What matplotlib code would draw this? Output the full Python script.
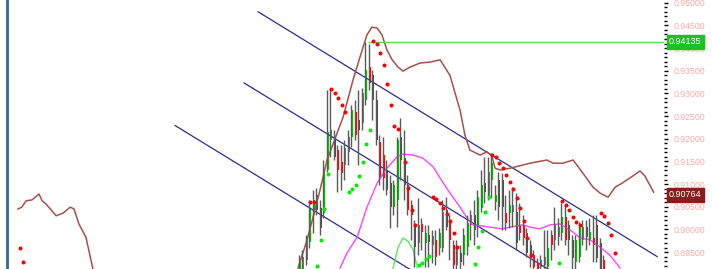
import numpy as np
import matplotlib.pyplot as plt
from matplotlib.ticker import MultipleLocator, FormatStrFormatter

# candles (bar index 0 = first visible candle)
opens = [0.8899, 0.8910, 0.8932, 0.8972, 0.9032, 0.9076, 0.9047, 0.9036, 0.9131, 0.9197,
         0.9204, 0.9175, 0.9149, 0.9142, 0.9171, 0.9204, 0.9259, 0.9241, 0.9235, 0.9285,
         0.9358, 0.9341, 0.9285, 0.9193, 0.9164, 0.9131, 0.9102, 0.9049, 0.9065, 0.9204,
         0.9157, 0.9098, 0.9054, 0.9005, 0.8970, 0.9012, 0.8970, 0.8988, 0.8966, 0.8977,
         0.8959, 0.8959, 0.9043, 0.9016, 0.8966, 0.8921, 0.8948, 0.8943, 0.8961, 0.9010,
         0.9032, 0.9010, 0.9047, 0.9102, 0.9071, 0.9109, 0.9060, 0.9109, 0.9109, 0.9036,
         0.9036, 0.9038, 0.9038, 0.9010, 0.9010, 0.8992, 0.8966, 0.8943, 0.8926, 0.8917,
         0.8921, 0.8917, 0.8988, 0.8977, 0.8983, 0.8992, 0.9027, 0.9010, 0.8977, 0.8928,
         0.8939, 0.8977, 0.9005, 0.8977, 0.8981, 0.9010, 0.8970, 0.8932]
highs = [0.8943, 0.8955, 0.8988, 0.9065, 0.9087, 0.9091, 0.9065, 0.9153, 0.9307, 0.9310,
         0.9219, 0.9186, 0.9186, 0.9197, 0.9219, 0.9274, 0.9285, 0.9307, 0.9312, 0.94135,
         0.9410, 0.9352, 0.9307, 0.9208, 0.9204, 0.9153, 0.9120, 0.9109, 0.9204, 0.9246,
         0.9219, 0.9120, 0.9065, 0.9021, 0.9069, 0.9025, 0.9010, 0.9010, 0.8999, 0.8999,
         0.9003, 0.9065, 0.9071, 0.9032, 0.8977, 0.8977, 0.8966, 0.9003, 0.9032, 0.9043,
         0.9065, 0.9087, 0.9131, 0.9160, 0.9160, 0.9168, 0.9098, 0.9127, 0.9124, 0.9076,
         0.9087, 0.9093, 0.9080, 0.9058, 0.9032, 0.9003, 0.8977, 0.8955, 0.8937, 0.8943,
         0.8999, 0.8999, 0.8999, 0.9049, 0.9025, 0.9058, 0.9054, 0.9021, 0.8988, 0.8988,
         0.9016, 0.9021, 0.9021, 0.9025, 0.9032, 0.9032, 0.8981, 0.8943]
lows = [0.8888, 0.8893, 0.8921, 0.8959, 0.8992, 0.9032, 0.8988, 0.9025, 0.9127, 0.9160,
        0.9153, 0.9082, 0.9087, 0.9109, 0.9142, 0.9182, 0.9197, 0.9142, 0.9219, 0.9274,
        0.9307, 0.9241, 0.9186, 0.9098, 0.9087, 0.9076, 0.9003, 0.9032, 0.9005, 0.9109,
        0.9065, 0.9032, 0.8977, 0.8917, 0.8943, 0.8955, 0.8917, 0.8917, 0.8926, 0.8921,
        0.8943, 0.8950, 0.8999, 0.8932, 0.8899, 0.8899, 0.8899, 0.8921, 0.8943, 0.8977,
        0.8966, 0.8983, 0.9038, 0.9058, 0.9065, 0.9069, 0.9043, 0.9021, 0.8999, 0.8999,
        0.9003, 0.9005, 0.8955, 0.8977, 0.8966, 0.8939, 0.8917, 0.8906, 0.8899, 0.8906,
        0.8910, 0.8910, 0.8932, 0.8955, 0.8966, 0.8977, 0.8966, 0.8943, 0.8910, 0.8910,
        0.8928, 0.8966, 0.8955, 0.8966, 0.8928, 0.8928, 0.8899, 0.8888]
closes = [0.8928, 0.8939, 0.8977, 0.9047, 0.9065, 0.9043, 0.9003, 0.9131, 0.9215, 0.9219,
          0.9160, 0.9131, 0.9124, 0.9180, 0.9204, 0.9263, 0.9208, 0.9219, 0.9301, 0.9352,
          0.9323, 0.9285, 0.9197, 0.9115, 0.9113, 0.9087, 0.9049, 0.9098, 0.9197, 0.9153,
          0.9098, 0.9043, 0.9032, 0.8961, 0.9010, 0.8994, 0.8992, 0.8972, 0.8985, 0.8939,
          0.8992, 0.9038, 0.9005, 0.8977, 0.8921, 0.8959, 0.8928, 0.8988, 0.9014, 0.9032,
          0.8999, 0.9071, 0.9098, 0.9082, 0.9127, 0.9146, 0.9076, 0.9049, 0.9049, 0.9014,
          0.9054, 0.9054, 0.8970, 0.8992, 0.8981, 0.8948, 0.8937, 0.8917, 0.8910, 0.8932,
          0.8939, 0.8959, 0.8966, 0.9010, 0.9005, 0.9027, 0.8977, 0.8977, 0.8937, 0.8977,
          0.9005, 0.9005, 0.8983, 0.8994, 0.8966, 0.8937, 0.8910, 0.8899]

# parabolic SAR dots
sar_up_idx = [-80, -79, 3, 4, 9, 10, 11, 12, 13, 21, 22, 23, 24, 25, 26, 27, 28,
              30, 31, 32, 33, 38, 39, 40, 41, 42, 43, 44, 45,
              55, 56, 57, 58, 59, 60, 61, 62, 63, 64, 65, 66,
              75, 76, 77, 78, 79, 80, 86, 87, 88, 89, 90]
sar_up = [0.8959, 0.8928, 0.9060, 0.9060, 0.9310, 0.9301, 0.9290, 0.9274, 0.9259,
          0.9416, 0.9409, 0.9389, 0.9363, 0.9321, 0.9274, 0.9228, 0.9221,
          0.9149, 0.9091, 0.9043, 0.9010, 0.9071, 0.9067, 0.9058, 0.9047, 0.9034,
          0.9018, 0.8992, 0.8961,
          0.9164, 0.9160, 0.9146, 0.9135, 0.9120, 0.9104, 0.9089, 0.9069, 0.9047,
          0.9018, 0.8981, 0.8943,
          0.9063, 0.9054, 0.9043, 0.9027, 0.9016, 0.9010, 0.9036, 0.9029, 0.9014,
          0.8988, 0.8948]
sar_dn_idx = [5, 6, 7, 8, 14, 15, 16, 17, 18, 19, 20, 34, 35, 36, 37, 50, 51, 52, 53, 54, 74]
sar_dn = [0.8919, 0.8977, 0.9045, 0.9122, 0.9082, 0.9089, 0.9098, 0.9118, 0.9149,
          0.9188, 0.9219, 0.8921, 0.8926, 0.8934, 0.8941, 0.8923, 0.8961, 0.8996,
          0.9038, 0.9071, 0.8926]

# envelope / bands
upper_idx = [-80.5, -79.4, -78.2, -76.5, -74.5, -73.6, -72.5, -69.6, -67.6, -65.6, -64.5,
             -63.1, -61.1, -59.1, np.nan,
             -0.5, 2.1, 3.8, 5.8, 7.8, 9.5, 12.4, 15.2, 17.2, 19.2, 20.6, 22.1, 23.5,
             24.9, 26.4, 28.1, 29.5, 31.5, 34.4, 37.2, 40.1, 42.9, 45.8, 47.2, 48.6,
             51.5, 53.5, 54.9, 55.8, 57.2, 60.1, 65.8, 70.6, 72.4, 75.2, 78.1, 80.9,
             83.8, 85.8, 88.1, 90.1, 92.1, 95.2, 97.2, 98.6, 101.1]
upper = [0.9045, 0.9049, 0.9063, 0.9065, 0.9078, 0.9063, 0.9056, 0.9030, 0.9036, 0.9049,
         0.9045, 0.9012, 0.8983, 0.8913, np.nan,
         0.8915, 0.8977, 0.9027, 0.9087, 0.9153, 0.9188, 0.9248, 0.9329, 0.9380, 0.9429,
         0.9446, 0.9444, 0.9429, 0.9396, 0.9374, 0.9358, 0.9349, 0.9358, 0.9367, 0.9369,
         0.9374, 0.9340, 0.9263, 0.9208, 0.9175, 0.9164, 0.9171, 0.9162, 0.9135, 0.9131,
         0.9135, 0.9146, 0.9153, 0.9146, 0.9146, 0.9153, 0.9124, 0.9093, 0.9080, 0.9071,
         0.9093, 0.9102, 0.9118, 0.9129, 0.9118, 0.9082]
ma_idx = [11.5, 13.5, 16.4, 19.2, 22.1, 24.9, 27.8, 29.5, 32.4, 35.2, 38.1, 40.1, 42.9,
          45.8, 47.8, 49.5, 52.4, 54.4, 57.8, 60.1, 63.8, 65.8, 68.6, 71.5, 74.4, 77.2,
          80.1, 82.9, 85.8, 88.6, 91.5]
ma = [0.8915, 0.8948, 0.8983, 0.9049, 0.9102, 0.9135, 0.9160, 0.9166, 0.9164, 0.9157,
      0.9138, 0.9113, 0.9080, 0.9049, 0.9025, 0.9010, 0.9007, 0.9005, 0.9001, 0.9005,
      0.9010, 0.9005, 0.9001, 0.9010, 0.9012, 0.8999, 0.8981, 0.8977, 0.8961, 0.8943,
      0.8915]
lower_idx = [26.6, 28.1, 29.5, 30.9, 32.4, 33.6]
lower = [0.8913, 0.8961, 0.8981, 0.8974, 0.8955, 0.8915]

# regression channel (start bar, start price, end bar, end price)
channel = [(-11.9, 0.9480, 102.1, 0.8940),
           (-15.9, 0.9323, 74.4, 0.8896),
           (-35.6, 0.9229, 34.4, 0.8898)]

high_level = 0.94135
high_bar = 19.5
last_price = 0.90764
separator_bar = -83.6

fig = plt.figure(figsize=(7.12, 2.69), dpi=100)
ax = fig.add_axes([0, 0, 664 / 712, 1])
ax.set_xlim(-85.64, 104.07)
ax.set_ylim(0.89126, 0.95060)

ax.axvline(separator_bar, color='#3d6196', lw=2)

for x0, y0, x1, y1 in channel:
    ax.plot([x0, x1], [y0, y1], color='#2b2b9c', lw=0.9)

ax.plot(upper_idx, upper, color='#a5524c', lw=1.1)
ax.plot(ma_idx, ma, color='#ff44ff', lw=1.0)
ax.plot(lower_idx, lower, color='#55ee55', lw=1.0)

ax.hlines(high_level, high_bar, 104.07, color='#55dd55', lw=1.0)

idx = np.arange(len(opens))
o = np.array(opens)
c = np.array(closes)
up = c >= o
ax.vlines(idx - 0.3, lows, highs, color='#5a5a5a', lw=1.0)
ax.bar(idx[up], (c - o)[up], bottom=o[up], width=0.6, color='#00c800', linewidth=0)
ax.bar(idx[~up], (o - c)[~up], bottom=c[~up], width=0.6, color='#ff0000', linewidth=0)

ax.plot(sar_up_idx, sar_up, 'o', color='#ff0000', ms=2.9, mew=0)
ax.plot(sar_dn_idx, sar_dn, 'o', color='#00ee00', ms=2.9, mew=0)

for s in ['left', 'top', 'bottom', 'right']:
    ax.spines[s].set_visible(False)
ax.set_xticks([])
ax.yaxis.tick_right()
ax.yaxis.set_major_locator(MultipleLocator(0.005))
ax.yaxis.set_minor_locator(MultipleLocator(0.001))
ax.yaxis.set_major_formatter(FormatStrFormatter('%.5f'))
ax.tick_params(axis='y', which='major', length=3, width=1, color='black', pad=4,
               labelsize=6.3, labelcolor='#ffa8a8')
ax.tick_params(axis='y', which='minor', length=2, width=1, color='black')
for lab in ax.get_yticklabels():
    lab.set_family('Liberation Sans')

ax.annotate('%.5f' % high_level, xy=(1, high_level), xycoords=('axes fraction', 'data'),
            xytext=(3.5, 0), textcoords='offset points', va='center', ha='left',
            fontsize=6.5, family='Liberation Sans', color='white',
            bbox=dict(boxstyle='square,pad=0.25', fc='#1fbf1f', ec='#1fbf1f'))
ax.annotate('%.5f' % last_price, xy=(1, last_price), xycoords=('axes fraction', 'data'),
            xytext=(3.5, 0), textcoords='offset points', va='center', ha='left',
            fontsize=6.5, family='Liberation Sans', color='white',
            bbox=dict(boxstyle='square,pad=0.25', fc='#8b1c1c', ec='#8b1c1c'))

fig.savefig('out.png', dpi=100, facecolor='white')
